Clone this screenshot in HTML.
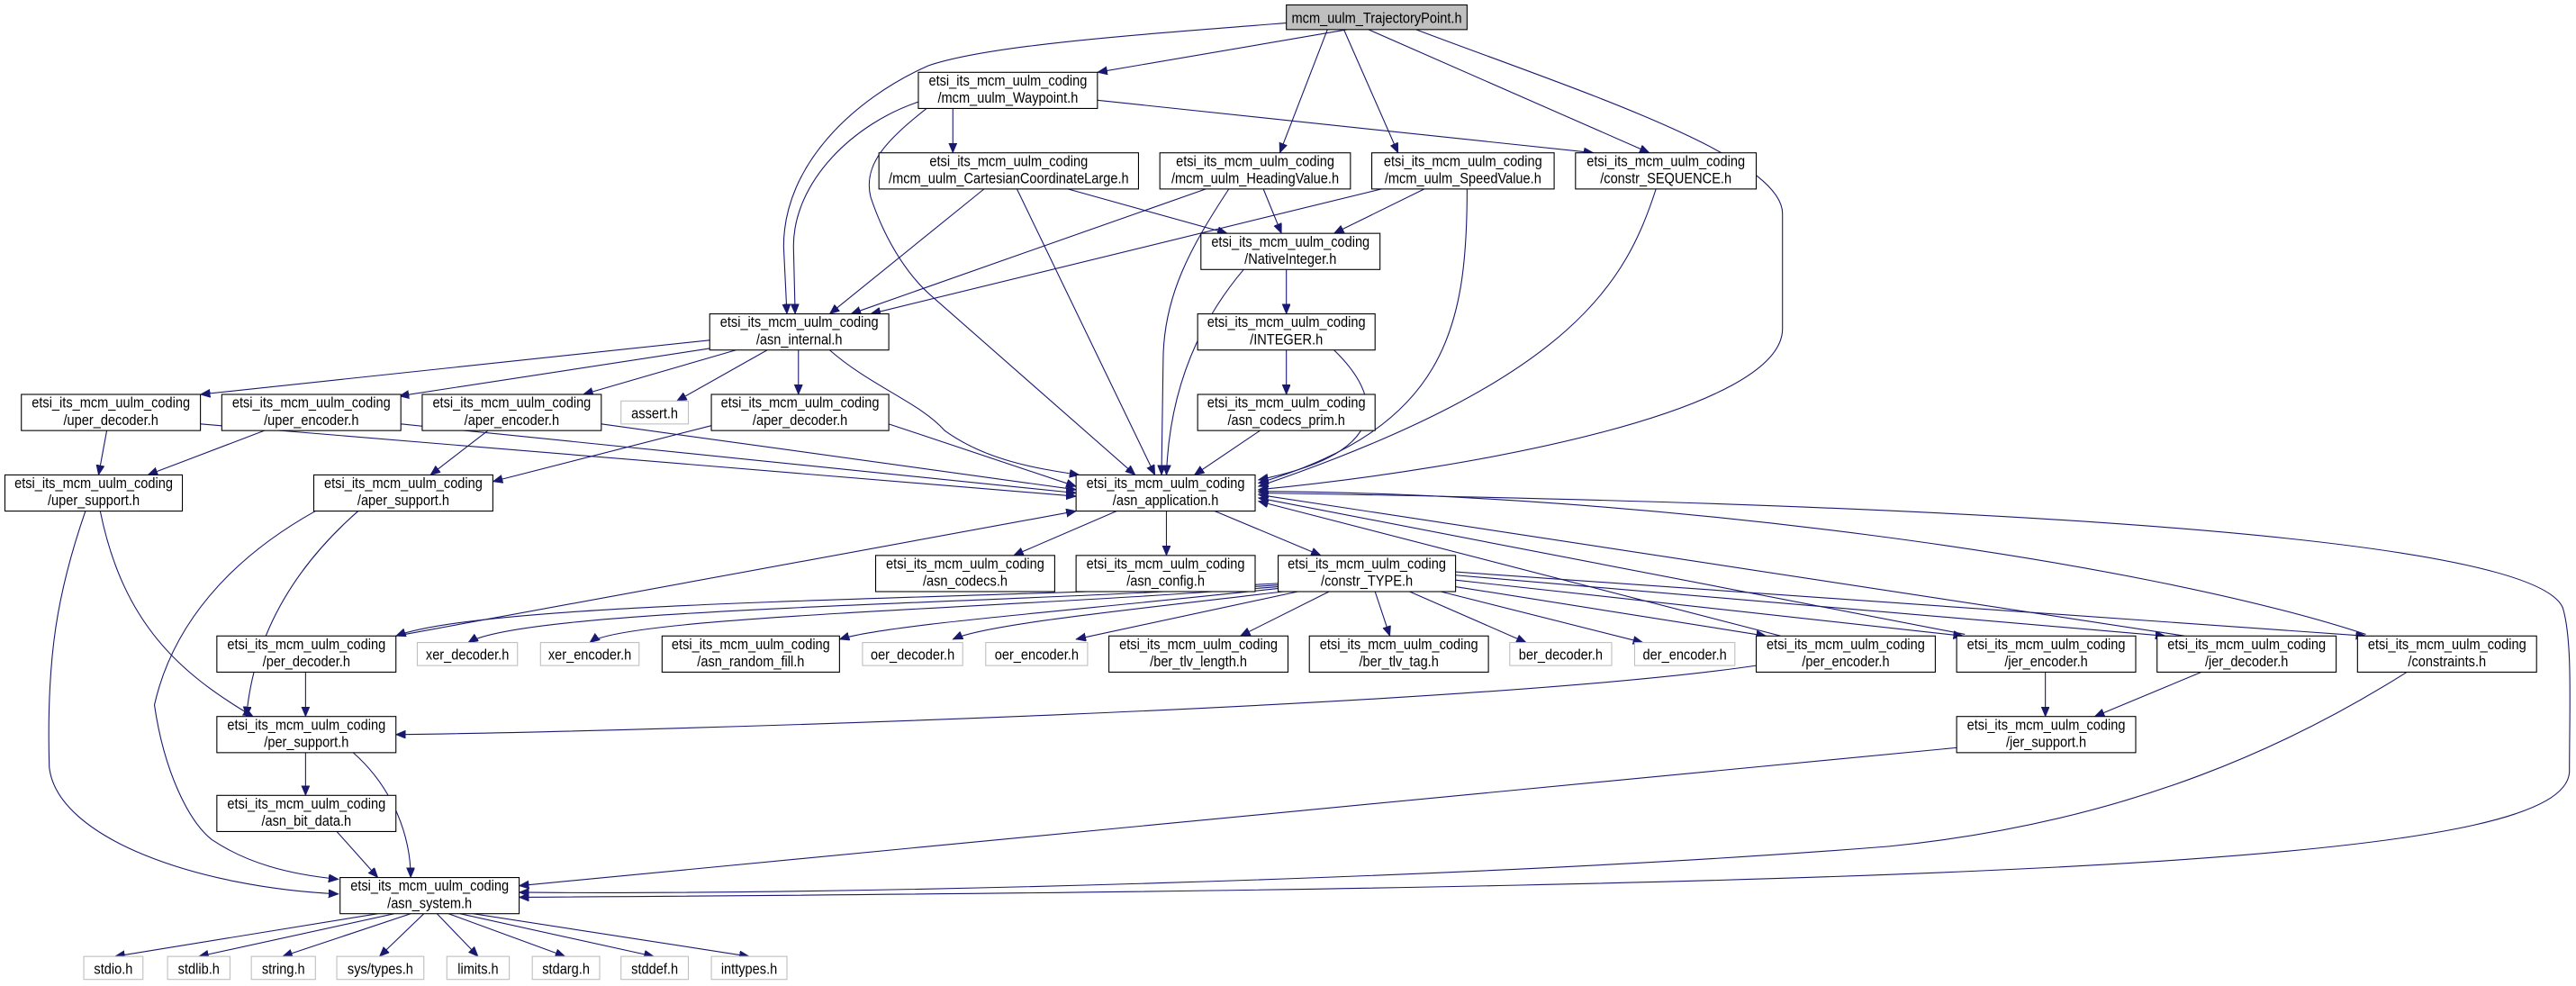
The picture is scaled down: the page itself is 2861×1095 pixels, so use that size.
<!DOCTYPE html>
<html><head><meta charset="utf-8">
<style>
html,body{margin:0;padding:0;background:#fff;}
svg{display:block;}
text{font-family:"Liberation Sans","DejaVu Sans",sans-serif;font-size:9.3px;fill:#000;}
.n{fill:#fff;stroke:#000;stroke-width:0.6;}
.l{fill:#fff;stroke:#bfbfbf;stroke-width:0.6;}
.e{fill:none;stroke:#191970;stroke-width:0.6;marker-end:url(#a);}
</style></head><body>
<svg width="2861" height="1095" viewBox="0 0 1568 600" preserveAspectRatio="none" xmlns="http://www.w3.org/2000/svg">
<defs><marker id="a" markerUnits="userSpaceOnUse" markerWidth="7" markerHeight="6" refX="6" refY="2.5" orient="auto"><path d="M0,0 L6,2.5 L0,5 z" fill="#191970" stroke="#191970" stroke-width="0.4"/></marker></defs>

<!-- edges -->
<g>
<path class="e" d="M820,18 L668,44"/>
<path class="e" d="M783,14 C680,22 600,28 565,40 C520,60 477,100 477,150 L479,191"/>
<path class="e" d="M808,18 L779,93"/>
<path class="e" d="M818,18 L851,93"/>
<path class="e" d="M833,18 L1004,93"/>
<path class="e" d="M862,18 C960,55 1085,95 1085,130 L1085,200 C1085,250 900,285 766,298"/>
<path class="e" d="M580,66 L580,93"/>
<path class="e" d="M668,61 L970,93"/>
<path class="e" d="M559,62 C520,75 483,110 483,150 L484,191"/>
<path class="e" d="M564,66 C540,85 525,100 530,120 C540,150 555,170 568,181 L691,289"/>
<path class="e" d="M599,115 L505,191"/>
<path class="e" d="M619,115 L703,289"/>
<path class="e" d="M650,115 L747,142"/>
<path class="e" d="M734,115 L518,191"/>
<path class="e" d="M748,115 C725,150 708,180 708,220 L707,289"/>
<path class="e" d="M769,115 L780,142"/>
<path class="e" d="M867,115 L812,142"/>
<path class="e" d="M841,115 L530,191"/>
<path class="e" d="M893,115 C893,200 880,260 766,294"/>
<path class="e" d="M1008,115 C990,170 960,230 766,296"/>
<path class="e" d="M783,164 L783,191"/>
<path class="e" d="M757,164 C735,190 712,230 710,289"/>
<path class="e" d="M812,213 C840,240 850,275 766,292"/>
<path class="e" d="M783,213 L783,240"/>
<path class="e" d="M767,262 L727,289"/>
<path class="e" d="M432,207 L122,240"/>
<path class="e" d="M432,212 L243,241"/>
<path class="e" d="M448,213 L355,240"/>
<path class="e" d="M467,213 L412,244"/>
<path class="e" d="M486,213 L486,240"/>
<path class="e" d="M505,213 C530,235 560,245 575,262 C600,280 630,285 657,289"/>
<path class="e" d="M65,262 L60,289"/>
<path class="e" d="M122,258 L655,302"/>
<path class="e" d="M161,262 L90,289"/>
<path class="e" d="M244,258 L655,300"/>
<path class="e" d="M297,262 L262,289"/>
<path class="e" d="M366,258 L655,298"/>
<path class="e" d="M433,259 L300,293"/>
<path class="e" d="M541,258 L655,296"/>
<path class="e" d="M61,311 C75,380 110,410 154,436"/>
<path class="e" d="M52,311 C35,360 28,400 30,467 C35,510 120,540 206,544"/>
<path class="e" d="M218,311 C185,340 155,380 150,436"/>
<path class="e" d="M192,311 C140,340 105,380 94,429 C100,470 115,500 129,511 C150,525 175,532 206,535"/>
<path class="e" d="M682,310 L617,338"/>
<path class="e" d="M710,311 L710,338"/>
<path class="e" d="M737,310 L804,338"/>
<path class="e" d="M241,387 L655,311"/>
<path class="e" d="M778,355 C600,365 300,365 241,387"/>
<path class="e" d="M778,356 C600,368 320,370 285,391"/>
<path class="e" d="M778,357 C620,370 380,375 359,391"/>
<path class="e" d="M779,358 C650,372 540,380 511,389"/>
<path class="e" d="M781,360 C680,372 600,380 580,389"/>
<path class="e" d="M790,360 L655,389"/>
<path class="e" d="M809,360 L755,387"/>
<path class="e" d="M837,360 L846,387"/>
<path class="e" d="M858,360 L929,391"/>
<path class="e" d="M877,360 L1000,391"/>
<path class="e" d="M886,357 L1075,387"/>
<path class="e" d="M886,353 L1195,387"/>
<path class="e" d="M886,350 L1318,387"/>
<path class="e" d="M886,348 L1440,387"/>
<path class="e" d="M1084,387 L766,305"/>
<path class="e" d="M1196,386 L766,303"/>
<path class="e" d="M1330,387 L766,301"/>
<path class="e" d="M1440,386 C1300,340 1000,300 766,299"/>
<path class="e" d="M766,300 C1100,305 1540,320 1560,370 C1566,390 1564,430 1564,470 C1560,520 1300,540 316,546"/>
<path class="e" d="M1069,405 C900,430 400,445 241,447"/>
<path class="e" d="M1245,409 L1245,436"/>
<path class="e" d="M1340,409 L1275,436"/>
<path class="e" d="M1191,455 L316,539"/>
<path class="e" d="M1465,409 C1400,450 1300,500 1150,515 C900,535 500,545 316,543"/>
<path class="e" d="M186,409 L186,436"/>
<path class="e" d="M186,458 L186,484"/>
<path class="e" d="M215,458 C240,480 250,510 250,534"/>
<path class="e" d="M205,506 L230,534"/>
<path class="e" d="M230,556 L70,582"/>
<path class="e" d="M240,556 L121,582"/>
<path class="e" d="M250,556 L172,582"/>
<path class="e" d="M258,556 L231,582"/>
<path class="e" d="M266,556 L291,582"/>
<path class="e" d="M273,556 L344,582"/>
<path class="e" d="M280,556 L398,582"/>
<path class="e" d="M288,556 L456,582"/>
</g>

<!-- nodes -->
<g>
<rect x="783" y="3" width="110" height="15" fill="#bfbfbf" stroke="#000" stroke-width="0.6"/>
<text transform="translate(838,14) scale(0.86,1)" text-anchor="middle">mcm_uulm_TrajectoryPoint.h</text>

<rect class="n" x="559" y="44" width="109" height="22"/>
<text transform="translate(613.5,52) scale(0.86,1)" text-anchor="middle">etsi_its_mcm_uulm_coding</text>
<text transform="translate(613.5,62.5) scale(0.86,1)" text-anchor="middle">/mcm_uulm_Waypoint.h</text>

<rect class="n" x="535" y="93" width="158" height="22"/>
<text transform="translate(614,101) scale(0.86,1)" text-anchor="middle">etsi_its_mcm_uulm_coding</text>
<text transform="translate(614,111.5) scale(0.86,1)" text-anchor="middle">/mcm_uulm_CartesianCoordinateLarge.h</text>

<rect class="n" x="706" y="93" width="116" height="22"/>
<text transform="translate(764,101) scale(0.86,1)" text-anchor="middle">etsi_its_mcm_uulm_coding</text>
<text transform="translate(764,111.5) scale(0.86,1)" text-anchor="middle">/mcm_uulm_HeadingValue.h</text>

<rect class="n" x="835" y="93" width="111" height="22"/>
<text transform="translate(890.5,101) scale(0.86,1)" text-anchor="middle">etsi_its_mcm_uulm_coding</text>
<text transform="translate(890.5,111.5) scale(0.86,1)" text-anchor="middle">/mcm_uulm_SpeedValue.h</text>

<rect class="n" x="959" y="93" width="110" height="22"/>
<text transform="translate(1014,101) scale(0.86,1)" text-anchor="middle">etsi_its_mcm_uulm_coding</text>
<text transform="translate(1014,111.5) scale(0.86,1)" text-anchor="middle">/constr_SEQUENCE.h</text>

<rect class="n" x="731" y="142" width="109" height="22"/>
<text transform="translate(785.5,150) scale(0.86,1)" text-anchor="middle">etsi_its_mcm_uulm_coding</text>
<text transform="translate(785.5,160.5) scale(0.86,1)" text-anchor="middle">/NativeInteger.h</text>

<rect class="n" x="432" y="191" width="109" height="22"/>
<text transform="translate(486.5,199) scale(0.86,1)" text-anchor="middle">etsi_its_mcm_uulm_coding</text>
<text transform="translate(486.5,209.5) scale(0.86,1)" text-anchor="middle">/asn_internal.h</text>

<rect class="n" x="729" y="191" width="108" height="22"/>
<text transform="translate(783,199) scale(0.86,1)" text-anchor="middle">etsi_its_mcm_uulm_coding</text>
<text transform="translate(783,209.5) scale(0.86,1)" text-anchor="middle">/INTEGER.h</text>

<rect class="n" x="13" y="240" width="109" height="22"/>
<text transform="translate(67.5,248) scale(0.86,1)" text-anchor="middle">etsi_its_mcm_uulm_coding</text>
<text transform="translate(67.5,258.5) scale(0.86,1)" text-anchor="middle">/uper_decoder.h</text>

<rect class="n" x="135" y="240" width="109" height="22"/>
<text transform="translate(189.5,248) scale(0.86,1)" text-anchor="middle">etsi_its_mcm_uulm_coding</text>
<text transform="translate(189.5,258.5) scale(0.86,1)" text-anchor="middle">/uper_encoder.h</text>

<rect class="n" x="257" y="240" width="109" height="22"/>
<text transform="translate(311.5,248) scale(0.86,1)" text-anchor="middle">etsi_its_mcm_uulm_coding</text>
<text transform="translate(311.5,258.5) scale(0.86,1)" text-anchor="middle">/aper_encoder.h</text>

<rect class="l" x="378" y="244" width="41" height="14"/>
<text transform="translate(398.5,254.5) scale(0.86,1)" text-anchor="middle">assert.h</text>

<rect class="n" x="433" y="240" width="108" height="22"/>
<text transform="translate(487,248) scale(0.86,1)" text-anchor="middle">etsi_its_mcm_uulm_coding</text>
<text transform="translate(487,258.5) scale(0.86,1)" text-anchor="middle">/aper_decoder.h</text>

<rect class="n" x="729" y="240" width="108" height="22"/>
<text transform="translate(783,248) scale(0.86,1)" text-anchor="middle">etsi_its_mcm_uulm_coding</text>
<text transform="translate(783,258.5) scale(0.86,1)" text-anchor="middle">/asn_codecs_prim.h</text>

<rect class="n" x="3" y="289" width="108" height="22"/>
<text transform="translate(57,297) scale(0.86,1)" text-anchor="middle">etsi_its_mcm_uulm_coding</text>
<text transform="translate(57,307.5) scale(0.86,1)" text-anchor="middle">/uper_support.h</text>

<rect class="n" x="191" y="289" width="109" height="22"/>
<text transform="translate(245.5,297) scale(0.86,1)" text-anchor="middle">etsi_its_mcm_uulm_coding</text>
<text transform="translate(245.5,307.5) scale(0.86,1)" text-anchor="middle">/aper_support.h</text>

<rect class="n" x="655" y="289" width="109" height="22"/>
<text transform="translate(709.5,297) scale(0.86,1)" text-anchor="middle">etsi_its_mcm_uulm_coding</text>
<text transform="translate(709.5,307.5) scale(0.86,1)" text-anchor="middle">/asn_application.h</text>

<rect class="n" x="533" y="338" width="109" height="22"/>
<text transform="translate(587.5,346) scale(0.86,1)" text-anchor="middle">etsi_its_mcm_uulm_coding</text>
<text transform="translate(587.5,356.5) scale(0.86,1)" text-anchor="middle">/asn_codecs.h</text>

<rect class="n" x="655" y="338" width="109" height="22"/>
<text transform="translate(709.5,346) scale(0.86,1)" text-anchor="middle">etsi_its_mcm_uulm_coding</text>
<text transform="translate(709.5,356.5) scale(0.86,1)" text-anchor="middle">/asn_config.h</text>

<rect class="n" x="778" y="338" width="108" height="22"/>
<text transform="translate(832,346) scale(0.86,1)" text-anchor="middle">etsi_its_mcm_uulm_coding</text>
<text transform="translate(832,356.5) scale(0.86,1)" text-anchor="middle">/constr_TYPE.h</text>

<rect class="n" x="132" y="387" width="109" height="22"/>
<text transform="translate(186.5,395) scale(0.86,1)" text-anchor="middle">etsi_its_mcm_uulm_coding</text>
<text transform="translate(186.5,405.5) scale(0.86,1)" text-anchor="middle">/per_decoder.h</text>

<rect class="l" x="254" y="391" width="61" height="14"/>
<text transform="translate(284.5,401.5) scale(0.86,1)" text-anchor="middle">xer_decoder.h</text>

<rect class="l" x="329" y="391" width="60" height="14"/>
<text transform="translate(359,401.5) scale(0.86,1)" text-anchor="middle">xer_encoder.h</text>

<rect class="n" x="403" y="387" width="108" height="22"/>
<text transform="translate(457,395) scale(0.86,1)" text-anchor="middle">etsi_its_mcm_uulm_coding</text>
<text transform="translate(457,405.5) scale(0.86,1)" text-anchor="middle">/asn_random_fill.h</text>

<rect class="l" x="525" y="391" width="61" height="14"/>
<text transform="translate(555.5,401.5) scale(0.86,1)" text-anchor="middle">oer_decoder.h</text>

<rect class="l" x="600" y="391" width="62" height="14"/>
<text transform="translate(631,401.5) scale(0.86,1)" text-anchor="middle">oer_encoder.h</text>

<rect class="n" x="675" y="387" width="109" height="22"/>
<text transform="translate(729.5,395) scale(0.86,1)" text-anchor="middle">etsi_its_mcm_uulm_coding</text>
<text transform="translate(729.5,405.5) scale(0.86,1)" text-anchor="middle">/ber_tlv_length.h</text>

<rect class="n" x="797" y="387" width="109" height="22"/>
<text transform="translate(851.5,395) scale(0.86,1)" text-anchor="middle">etsi_its_mcm_uulm_coding</text>
<text transform="translate(851.5,405.5) scale(0.86,1)" text-anchor="middle">/ber_tlv_tag.h</text>

<rect class="l" x="919" y="391" width="62" height="14"/>
<text transform="translate(950,401.5) scale(0.86,1)" text-anchor="middle">ber_decoder.h</text>

<rect class="l" x="995" y="391" width="61" height="14"/>
<text transform="translate(1025.5,401.5) scale(0.86,1)" text-anchor="middle">der_encoder.h</text>

<rect class="n" x="1069" y="387" width="109" height="22"/>
<text transform="translate(1123.5,395) scale(0.86,1)" text-anchor="middle">etsi_its_mcm_uulm_coding</text>
<text transform="translate(1123.5,405.5) scale(0.86,1)" text-anchor="middle">/per_encoder.h</text>

<rect class="n" x="1191" y="387" width="109" height="22"/>
<text transform="translate(1245.5,395) scale(0.86,1)" text-anchor="middle">etsi_its_mcm_uulm_coding</text>
<text transform="translate(1245.5,405.5) scale(0.86,1)" text-anchor="middle">/jer_encoder.h</text>

<rect class="n" x="1313" y="387" width="109" height="22"/>
<text transform="translate(1367.5,395) scale(0.86,1)" text-anchor="middle">etsi_its_mcm_uulm_coding</text>
<text transform="translate(1367.5,405.5) scale(0.86,1)" text-anchor="middle">/jer_decoder.h</text>

<rect class="n" x="1435" y="387" width="109" height="22"/>
<text transform="translate(1489.5,395) scale(0.86,1)" text-anchor="middle">etsi_its_mcm_uulm_coding</text>
<text transform="translate(1489.5,405.5) scale(0.86,1)" text-anchor="middle">/constraints.h</text>

<rect class="n" x="132" y="436" width="109" height="22"/>
<text transform="translate(186.5,444) scale(0.86,1)" text-anchor="middle">etsi_its_mcm_uulm_coding</text>
<text transform="translate(186.5,454.5) scale(0.86,1)" text-anchor="middle">/per_support.h</text>

<rect class="n" x="1191" y="436" width="109" height="22"/>
<text transform="translate(1245.5,444) scale(0.86,1)" text-anchor="middle">etsi_its_mcm_uulm_coding</text>
<text transform="translate(1245.5,454.5) scale(0.86,1)" text-anchor="middle">/jer_support.h</text>

<rect class="n" x="132" y="484" width="109" height="22"/>
<text transform="translate(186.5,492) scale(0.86,1)" text-anchor="middle">etsi_its_mcm_uulm_coding</text>
<text transform="translate(186.5,502.5) scale(0.86,1)" text-anchor="middle">/asn_bit_data.h</text>

<rect class="n" x="207" y="534" width="109" height="22"/>
<text transform="translate(261.5,542) scale(0.86,1)" text-anchor="middle">etsi_its_mcm_uulm_coding</text>
<text transform="translate(261.5,552.5) scale(0.86,1)" text-anchor="middle">/asn_system.h</text>

<rect class="l" x="51" y="582" width="36" height="14"/>
<text transform="translate(69,592.5) scale(0.86,1)" text-anchor="middle">stdio.h</text>
<rect class="l" x="102" y="582" width="38" height="14"/>
<text transform="translate(121,592.5) scale(0.86,1)" text-anchor="middle">stdlib.h</text>
<rect class="l" x="153" y="582" width="39" height="14"/>
<text transform="translate(172.5,592.5) scale(0.86,1)" text-anchor="middle">string.h</text>
<rect class="l" x="205" y="582" width="53" height="14"/>
<text transform="translate(231.5,592.5) scale(0.86,1)" text-anchor="middle">sys/types.h</text>
<rect class="l" x="272" y="582" width="38" height="14"/>
<text transform="translate(291,592.5) scale(0.86,1)" text-anchor="middle">limits.h</text>
<rect class="l" x="324" y="582" width="41" height="14"/>
<text transform="translate(344.5,592.5) scale(0.86,1)" text-anchor="middle">stdarg.h</text>
<rect class="l" x="378" y="582" width="41" height="14"/>
<text transform="translate(398.5,592.5) scale(0.86,1)" text-anchor="middle">stddef.h</text>
<rect class="l" x="433" y="582" width="46" height="14"/>
<text transform="translate(456,592.5) scale(0.86,1)" text-anchor="middle">inttypes.h</text>
</g>
</svg>
</body></html>
